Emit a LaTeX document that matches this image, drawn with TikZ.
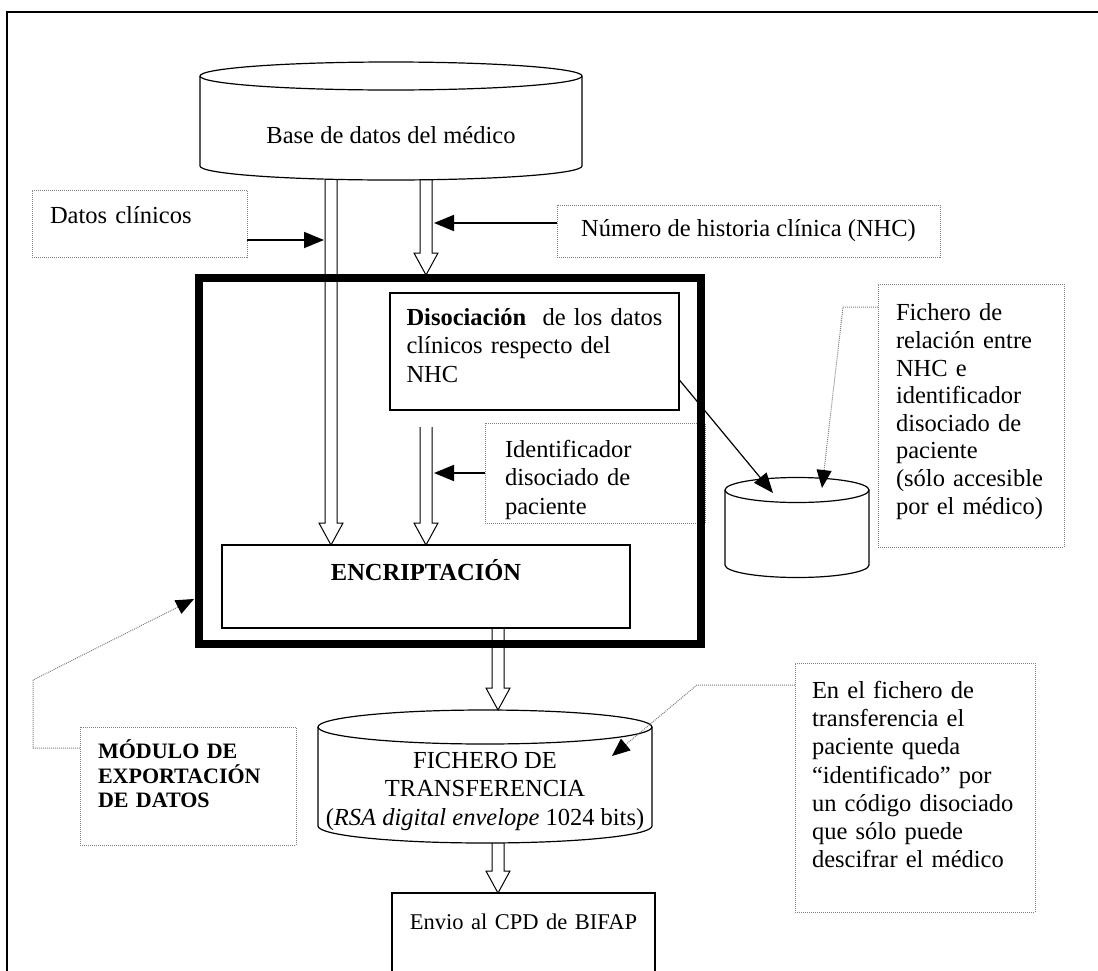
\documentclass[tikz,border=0pt]{standalone}
\usepackage{fontspec}
\setmainfont{Liberation Serif}
\usetikzlibrary{calc,arrows.meta}

\tikzset{
  box/.style={draw, line width=1.2pt, outer sep=0pt},
  note/.style={draw=gray, densely dotted, line width=1pt, outer sep=0pt, align=left},
  fat/.style={line width=1pt, to path={
      ($(\tikztostart)+(-6,0)$) -- ($(\tikztotarget)+(-6,-22)$)
      -- ($(\tikztotarget)+(-12,-22)$) -- (\tikztotarget)
      -- ($(\tikztotarget)+(12,-22)$) -- ($(\tikztotarget)+(6,-22)$)
      -- ($(\tikztostart)+(6,0)$)}},
  blk/.style={line width=1.8pt, -{Triangle[length=20pt,width=16pt]}},
  dotarr/.style={gray, densely dotted, line width=1pt,
      -{Triangle[length=18pt,width=15pt,color=black,fill=black]}}
}
% invisible strut that pushes text upwards
\newcommand{\lift}[1]{\rule[-#1]{0pt}{#1}}

\begin{document}
\begin{tikzpicture}[x=1pt, y=-1pt, font=\fontsize{24.5pt}{28.5pt}\selectfont]
    \useasboundingbox (0,0) rectangle (1098,970);
    \clip (0,0) rectangle (1098,970);

    % frame
    \draw[line width=1.5pt] (7,990) -- (7,12) -- (1120,12);

    % data bases
    \draw[line width=1.2pt] (391,76) ellipse [x radius=191pt, y radius=14pt];
    \draw[line width=1.2pt] (200,76) -- (200,166) arc[start angle=180, end angle=360, x radius=191pt, y radius=14pt] -- (582,76);
    \node (base) at (391,135) {Base de datos del médico};

    \draw[line width=1.2pt] (797,490) ellipse [x radius=72pt, y radius=12.5pt];
    \draw[line width=1.2pt] (725,490) -- (725,565) arc[start angle=180, end angle=360, x radius=72pt, y radius=12.5pt] -- (869,490);
    \coordinate (relfile) at (797,490);

    \draw[line width=1.2pt] (485,727) ellipse [x radius=167pt, y radius=17pt];
    \draw[line width=1.2pt] (318,727) -- (318,826) arc[start angle=180, end angle=360, x radius=167pt, y radius=17pt] -- (652,727);
    \node[align=center] (trans) at (485,791) {FICHERO DE\\TRANSFERENCIA\\(\textit{RSA digital envelope} 1024 bits)};

    % boxes
    \node[box, anchor=north west, minimum width=289pt, minimum height=117pt, text width=256pt, inner xsep=16pt, align=left] (disoc) at (390,293)
        {\textbf{Disociación}\ \ de los datos\\clínicos respecto del\\NHC\lift{13pt}};
    \node[box, anchor=north west, minimum width=408pt, minimum height=83pt, text width=380pt, align=center] (encr) at (222,545)
        {\textbf{ENCRIPTACIÓN}\lift{34pt}};
    \node[box, anchor=north west, minimum width=263pt, minimum height=110pt, text width=240pt, align=center, font=\fontsize{22.5pt}{27pt}\selectfont] (envio) at (392,893)
        {Envio al CPD de BIFAP\lift{52pt}};

    % notes
    \node[note, anchor=north west, minimum width=215pt, minimum height=67pt, text width=179pt, inner xsep=18pt] (datos) at (32,190)
        {Datos clínicos\lift{18pt}};
    \node[note, anchor=north west, minimum width=383pt, minimum height=52pt] (nhc) at (557,205) {Número de historia clínica (NHC)};
    \node[note, anchor=north west, minimum width=213pt, minimum height=100pt, text width=180pt, inner xsep=20pt] (ident) at (485,423)
        {\rule{0pt}{31pt}Identificador\\disociado de\\paciente};
    \node[note, anchor=north west, minimum width=180pt, minimum height=263pt, text width=150pt, inner xsep=18pt, font=\fontsize{24.5pt}{27.6pt}\selectfont] (fich) at (878,284)
        {Fichero de\\relación entre\\NHC e\\identificador\\disociado de\\paciente\\(sólo accesible\\por el médico)\lift{13pt}};
    \node[note, anchor=north west, minimum width=215pt, minimum height=118pt, text width=180pt, inner xsep=18pt, font=\fontsize{22pt}{24.5pt}\selectfont\bfseries] (modnote) at (80,727)
        {MÓDULO DE\\EXPORTACIÓN\\DE DATOS\lift{24pt}};
    \node[note, anchor=north west, minimum width=240pt, minimum height=249pt, text width=206pt, inner xsep=17pt, font=\fontsize{24.5pt}{28.2pt}\selectfont] (enf) at (795,663)
        {En el fichero de\\transferencia el\\paciente queda\\“identificado” por\\un código disociado\\que sólo puede\\descifrar el médico\lift{26pt}};

    % hollow arrows
    \coordinate (dbL) at (331,180);
    \coordinate (dbR) at (426,180);
    \coordinate (disL) at (426,427);
    \coordinate (encR) at (498,628);
    \coordinate (trR) at (498,843);
    \draw[fat] (dbL) to (dbL |- encr.north);
    \draw[fat] (dbR) to (426,275);
    \draw[fat] (disL) to (disL |- encr.north);
    \draw[fat] (encR) to (498,710);
    \draw[fat] (trR) to (trR |- envio.north);

    % module
    \node[draw, line width=7.5pt, outer sep=0pt, minimum width=502pt, minimum height=366pt, anchor=north west] (modbox) at (199,278) {};

    % black arrows
    \coordinate (clin) at (324,240);
    \coordinate (nhcin) at (434,223);
    \coordinate (idin) at (434,473);
    \coordinate (relin) at (773,493);
    \draw[blk] (datos.east |- clin) -- (clin);
    \draw[blk] (nhc.west |- nhcin) -- (nhcin);
    \draw[blk] (ident.west |- idin) -- (idin);
    \draw[blk, line width=1.2pt] ([yshift=-28pt]disoc.east) -- (relin);

    % dotted arrows
    \coordinate (relin2) at (822,488);
    \coordinate (modin) at (194,599);
    \coordinate (transin) at (612,756);
    \draw[dotarr] ([yshift=-23pt]fich.north west) -- ++(-35,0) -- (relin2);
    \draw[dotarr] ([yshift=-21pt]modnote.north west) -- ++(-47,0) -- ++(0,-68) -- (modin);
    \draw[dotarr] ([yshift=-22pt]enf.north west) -- ++(-98,0) -- (transin);
\end{tikzpicture}
\end{document}
